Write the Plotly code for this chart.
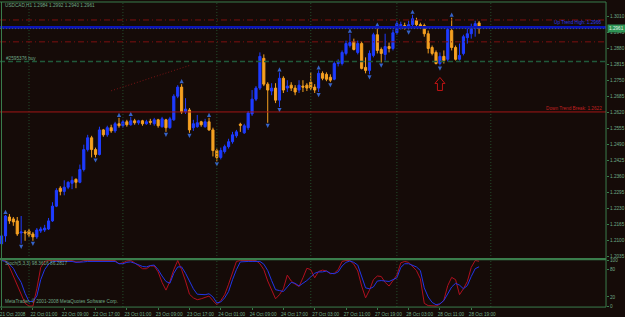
import plotly.graph_objects as go

# ---------------- data ----------------
opens = [1.2086,1.2118,1.2195,1.2187,1.2179,1.2130,1.2134,1.2138,1.2126,1.2114,
         1.2138,1.2142,1.2146,1.2179,1.2239,1.2312,1.2299,1.2316,1.2332,1.2348,
         1.2336,1.2388,1.2469,1.2517,1.2469,1.2449,1.2549,1.2529,1.2558,1.2545,
         1.2574,1.2566,1.2582,1.2570,1.2586,1.2578,1.2586,1.2574,1.2584,1.2574,
         1.2590,1.2562,1.2590,1.2558,1.2590,1.2686,1.2723,1.2622,1.2630,1.2558,
         1.2562,1.2582,1.2562,1.2582,1.2549,1.2465,1.2437,1.2461,1.2481,1.2501,
         1.2525,1.2572,1.2537,1.2558,1.2614,1.2674,1.2719,1.2840,1.2735,1.2707,
         1.2719,1.2670,1.2759,1.2719,1.2731,1.2719,1.2711,1.2727,1.2731,1.2743,
         1.2723,1.2719,1.2779,1.2775,1.2763,1.2755,1.2819,1.2819,1.2860,1.2892,
         1.2908,1.2864,1.2900,1.2803,1.2791,1.2852,1.2936,1.2876,1.2856,1.2888,
         1.2880,1.2944,1.2973,1.2973,1.2965,1.2977,1.2993,1.2977,1.2973,1.2940,
         1.2884,1.2864,1.2819,1.2848,1.2836,1.2953,1.2884,1.2836,1.2860,1.2924,
         1.2940,1.2961,1.2984]
highs = [1.2126,1.2203,1.2207,1.2195,1.2195,1.2199,1.2142,1.2146,1.2134,1.2150,
         1.2155,1.2163,1.2191,1.2255,1.2312,1.2320,1.2344,1.2340,1.2360,1.2352,
         1.2408,1.2489,1.2529,1.2525,1.2477,1.2562,1.2553,1.2566,1.2570,1.2582,
         1.2598,1.2590,1.2590,1.2602,1.2594,1.2590,1.2590,1.2590,1.2594,1.2598,
         1.2594,1.2602,1.2594,1.2602,1.2694,1.2731,1.2735,1.2678,1.2638,1.2590,
         1.2610,1.2586,1.2594,1.2598,1.2558,1.2473,1.2477,1.2489,1.2513,1.2541,
         1.2549,1.2578,1.2574,1.2626,1.2711,1.2727,1.2864,1.2856,1.2743,1.2739,
         1.2739,1.2783,1.2767,1.2751,1.2743,1.2731,1.2751,1.2751,1.2739,1.2783,
         1.2735,1.2791,1.2787,1.2783,1.2775,1.2827,1.2836,1.2872,1.2912,1.2940,
         1.2920,1.2912,1.2908,1.2844,1.2872,1.2944,1.2965,1.2884,1.2940,1.2904,
         1.2957,1.2993,1.2989,1.2985,1.2993,1.3017,1.3005,1.2985,1.2981,1.2953,
         1.2892,1.2872,1.2864,1.2872,1.2965,1.3005,1.2892,1.2900,1.2936,1.2961,
         1.2981,1.2993,1.2992]
lows = [1.2078,1.2094,1.2167,1.2159,1.2118,1.2086,1.2098,1.2114,1.2098,1.2106,
        1.2130,1.2134,1.2142,1.2175,1.2235,1.2283,1.2283,1.2308,1.2308,1.2312,
        1.2332,1.2380,1.2461,1.2437,1.2437,1.2445,1.2521,1.2521,1.2537,1.2537,
        1.2558,1.2558,1.2562,1.2566,1.2570,1.2570,1.2566,1.2570,1.2570,1.2566,
        1.2558,1.2558,1.2541,1.2554,1.2586,1.2678,1.2614,1.2614,1.2537,1.2545,
        1.2558,1.2562,1.2558,1.2545,1.2441,1.2421,1.2429,1.2453,1.2473,1.2493,
        1.2517,1.2541,1.2533,1.2549,1.2606,1.2666,1.2711,1.2727,1.2578,1.2690,
        1.2658,1.2642,1.2699,1.2703,1.2707,1.2690,1.2699,1.2703,1.2707,1.2711,
        1.2699,1.2703,1.2751,1.2747,1.2743,1.2751,1.2807,1.2811,1.2852,1.2884,
        1.2872,1.2856,1.2795,1.2779,1.2775,1.2844,1.2860,1.2823,1.2831,1.2864,
        1.2872,1.2936,1.2957,1.2957,1.2957,1.2969,1.2969,1.2961,1.2928,1.2860,
        1.2852,1.2815,1.2811,1.2819,1.2827,1.2872,1.2831,1.2831,1.2852,1.2900,
        1.2920,1.2928,1.2940]
closes = [1.2118,1.2199,1.2179,1.2175,1.2126,1.2134,1.2130,1.2122,1.2114,1.2142,
          1.2146,1.2150,1.2179,1.2239,1.2303,1.2299,1.2316,1.2336,1.2344,1.2336,
          1.2388,1.2469,1.2517,1.2469,1.2449,1.2549,1.2529,1.2558,1.2545,1.2574,
          1.2566,1.2582,1.2570,1.2586,1.2578,1.2586,1.2574,1.2582,1.2580,1.2590,
          1.2566,1.2594,1.2558,1.2594,1.2686,1.2723,1.2622,1.2634,1.2549,1.2574,
          1.2578,1.2570,1.2582,1.2549,1.2465,1.2437,1.2465,1.2481,1.2501,1.2529,
          1.2541,1.2568,1.2566,1.2618,1.2674,1.2719,1.2848,1.2735,1.2711,1.2719,
          1.2670,1.2759,1.2711,1.2727,1.2719,1.2703,1.2731,1.2723,1.2719,1.2719,
          1.2711,1.2779,1.2759,1.2755,1.2751,1.2819,1.2823,1.2864,1.2900,1.2904,
          1.2876,1.2900,1.2799,1.2791,1.2860,1.2936,1.2872,1.2860,1.2888,1.2880,
          1.2944,1.2981,1.2977,1.2965,1.2977,1.3001,1.2977,1.2969,1.2940,1.2880,
          1.2860,1.2819,1.2848,1.2831,1.2957,1.2884,1.2836,1.2852,1.2928,1.2940,
          1.2965,1.2981,1.2961]

stoch_main = [100,100,86,66,45,25,6,0,0,38,
              85,98,100,100,100,100,100,100,100,97,
              97,100,100,100,100,100,100,100,100,100,
              93,95,99,100,95,88,82,82,88,88,
              75,52,35,54,80,100,80,55,26,18,
              14,16,19,22,12,3,12,25,48,75,
              98,100,100,100,100,100,93,80,55,36,
              16,25,38,68,55,48,43,62,83,80,
              62,76,79,77,71,72,80,98,100,100,
              92,77,44,18,35,58,66,65,52,44,
              56,68,95,98,96,88,78,60,6,1,
              0,0,4,13,45,63,58,25,38,54,
              85,100,98.36]
stoch_signal = [100,98,92,83,66,52,28,10,10,22,
                58,80,92,98,98,98,98,98,98,96,
                96,97,98,98,98,98,98,98,98,98,
                93,93,96,97,94,90,87,86,89,90,
                80,66,54,50,72,86,86,72,54,38,
                26,25,25,27,20,7,9,18,32,58,
                80,97,98,98,98,98,98,92,78,56,
                36,34,32,42,52,50,44,50,56,64,
                72,75,75,77,72,71,75,88,96,99,
                96,90,65,40,38,42,55,56,55,54,
                58,62,85,93,93,90,86,78,40,20,
                8,3,5,12,28,42,50,46,38,45,
                65,82,86.28]

tick_bars = [0, 8, 16, 24, 32, 40, 48, 56, 64, 72, 80, 88, 96, 104, 112, 120]
tick_text = ["21 Oct 2008", "22 Oct 01:00", "22 Oct 09:00", "22 Oct 17:00",
             "23 Oct 01:00", "23 Oct 09:00", "23 Oct 17:00", "24 Oct 01:00",
             "24 Oct 09:00", "24 Oct 17:00", "27 Oct 03:00", "27 Oct 11:00",
             "27 Oct 19:00", "28 Oct 03:00", "28 Oct 11:00", "28 Oct 19:00"]
day_start_bars = [7, 31, 55, 79, 101, 125]
price_ticks = [1.3010, 1.2945, 1.2880, 1.2815, 1.2750, 1.2685, 1.2620, 1.2555,
               1.2490, 1.2425, 1.2360, 1.2295, 1.2230, 1.2165, 1.2100, 1.2035]
stoch_ticks = [0, 20, 80, 100]
frac_up_bars = [1, 30, 33, 46, 53, 71, 81, 89, 96, 105, 115]
frac_dn_bars = [5, 8, 24, 42, 48, 55, 68, 71, 81, 84, 94, 97, 104, 112]

level_dashdot_1 = 1.2996
level_up_trend = 1.2966
level_bid = 1.2961
level_dashdot_2 = 1.2907
level_order = 1.2827
level_down_break = 1.2622
trend_bars = [28, 48]
trend_prices = [1.2708, 1.2811]

# ---------------- style ----------------
BG = "#150b08"
BULL = "#1e3cff"
BEAR = "#f5a021"
FRAC = "#3562c8"
GREEN = "#3a7d4c"
TXT = "#6fa886"
FONT = "Liberation Sans"
FS = 4.7

W, H = 625, 317
PX = 607  # right edge of plot area in px
bars = list(range(len(opens)))

def py(px):
    return 1 - px / H

fig = go.Figure()
# dotted trend line (drawn beneath candles)
fig.add_trace(go.Scatter(x=trend_bars, y=trend_prices, mode="lines",
                         line=dict(color="#7a1414", width=1, dash="1px,2px"),
                         xaxis="x", yaxis="y", showlegend=False, hoverinfo="skip"))
fig.add_trace(go.Candlestick(
    x=bars, open=opens, high=highs, low=lows, close=closes,
    increasing=dict(line=dict(color=BULL, width=1), fillcolor=BULL),
    decreasing=dict(line=dict(color=BEAR, width=1), fillcolor=BEAR),
    whiskerwidth=0, xaxis="x", yaxis="y", showlegend=False, hoverinfo="skip"))

off = 0.0021
fig.add_trace(go.Scatter(
    x=frac_up_bars, y=[highs[i] + off for i in frac_up_bars], mode="markers",
    marker=dict(symbol="arrow-up", size=4.2, color=FRAC, line=dict(width=0)),
    xaxis="x", yaxis="y", showlegend=False, hoverinfo="skip"))
fig.add_trace(go.Scatter(
    x=frac_dn_bars, y=[lows[i] - off for i in frac_dn_bars], mode="markers",
    marker=dict(symbol="arrow-down", size=4.2, color=FRAC, line=dict(width=0)),
    xaxis="x", yaxis="y", showlegend=False, hoverinfo="skip"))

fig.add_trace(go.Scatter(x=bars, y=stoch_main, mode="lines",
                         line=dict(color="#b01020", width=1),
                         xaxis="x2", yaxis="y2", showlegend=False, hoverinfo="skip"))
fig.add_trace(go.Scatter(x=bars, y=stoch_signal, mode="lines",
                         line=dict(color="#2236e8", width=1),
                         xaxis="x2", yaxis="y2", showlegend=False, hoverinfo="skip"))

xr = [-1.6 / 3.92, (PX - 1.6) / 3.92]
dom_x = [0, PX / W]
fig.update_layout(
    width=W, height=H, margin=dict(l=0, r=0, t=0, b=0),
    paper_bgcolor=BG, plot_bgcolor=BG, boxgap=0.22,
    font=dict(family=FONT, size=FS, color=TXT),
    xaxis=dict(domain=dom_x, range=xr, anchor="y", showticklabels=False,
               showgrid=False, zeroline=False, rangeslider=dict(visible=False)),
    xaxis2=dict(domain=dom_x, range=xr, anchor="y2", matches="x",
                tickmode="array", tickvals=tick_bars, ticktext=tick_text,
                ticks="outside", ticklen=2, tickcolor=GREEN, ticklabelshift=11,
                ticklabeloverflow="allow",
                tickfont=dict(size=FS, color=TXT), showgrid=False, zeroline=False),
    yaxis=dict(domain=[py(259), py(4)], range=[1.2030, 1.3057], anchor="x",
               side="right", tickmode="array", tickvals=price_ticks,
               tickformat=".4f", ticks="outside", ticklen=2, tickcolor=GREEN,
               tickfont=dict(size=FS, color=TXT), showgrid=False, zeroline=False),
    yaxis2=dict(domain=[py(309), py(261)], range=[-2.2, 102.2], anchor="x2",
                side="right", tickmode="array", tickvals=stoch_ticks,
                ticks="outside", ticklen=2, tickcolor=GREEN,
                tickfont=dict(size=FS, color=TXT), showgrid=False, zeroline=False),
)

shapes = []
# day separators (dotted grid)
for b in day_start_bars:
    shapes.append(dict(type="line", xref="x", yref="paper", x0=b, x1=b,
                       y0=py(309), y1=py(1), line=dict(color="#24502e", width=1, dash="1px,2px")))
# horizontal levels
def hline(level, color, width, dash):
    shapes.append(dict(type="line", xref="paper", yref="y", x0=0, x1=PX / W,
                       y0=level, y1=level, line=dict(color=color, width=width, dash=dash)))
hline(level_dashdot_1, "#7e1010", 1, "6px,3px,1px,3px")
hline(level_dashdot_2, "#7e1010", 1, "6px,3px,1px,3px")
hline(level_order, "#20593a", 1.6, "5px,3px")
hline(level_down_break, "#a31616", 1, "solid")
hline(level_up_trend, "#0c16b8", 2.6, "solid")
hline(level_bid, "#3e5a66", 1, "1px,2px")
# frame
shapes += [
    dict(type="line", xref="paper", yref="paper", x0=1.5 / W, x1=1.5 / W, y0=py(309), y1=py(1),
         line=dict(color=GREEN, width=1)),
    dict(type="line", xref="paper", yref="paper", x0=0, x1=PX / W, y0=py(1), y1=py(1),
         line=dict(color=GREEN, width=1)),
    dict(type="line", xref="paper", yref="paper", x0=PX / W, x1=PX / W, y0=py(309), y1=py(1),
         line=dict(color=GREEN, width=1)),
    dict(type="line", xref="paper", yref="paper", x0=0, x1=PX / W, y0=py(309), y1=py(309),
         line=dict(color=GREEN, width=1)),
    dict(type="line", xref="paper", yref="paper", x0=0, x1=PX / W, y0=py(260.5), y1=py(260.5),
         line=dict(color=GREEN, width=2.2)),
]
# red hollow arrow under the low of the marked bar
shapes.append(dict(type="path", xref="x", yref="y", xsizemode="pixel", ysizemode="pixel",
                   xanchor=112, yanchor=lows[112],
                   path="M 0 -12 L 5 -18 L 2.5 -18 L 2.5 -25 L -2.5 -25 L -2.5 -18 L -5 -18 Z",
                   line=dict(color="#c01414", width=1), fillcolor="rgba(0,0,0,0)"))
fig.update_layout(shapes=shapes)

ann = [
    dict(text="USDCAD,H1 1.2984 1.2992 1.2940 1.2961", x=3 / W, y=py(5)),
    dict(text="#2595376 buy", x=4 / W, y=py(58)),
    dict(text="Stoch(5,3,3) 98.3616 86.2817", x=3 / W, y=py(265)),
    dict(text="MetaTrader, © 2001-2008 MetaQuotes Software Corp.", x=3 / W, y=py(303)),
]
for a in ann:
    fig.add_annotation(xref="paper", yref="paper", xanchor="left", yanchor="middle",
                       showarrow=False, font=dict(size=FS, color=TXT, family=FONT), **a)
fig.add_annotation(text="Up Trend High: 1.2966", xref="paper", yref="y", x=(PX - 2) / W,
                   y=level_up_trend, xanchor="right", yanchor="bottom", yshift=0,
                   showarrow=False, font=dict(size=FS, color="#2a3af0", family=FONT))
fig.add_annotation(text="Down Trend Break: 1.2622", xref="paper", yref="y", x=(PX - 2) / W,
                   y=level_down_break, xanchor="right", yanchor="bottom", yshift=-1,
                   showarrow=False, font=dict(size=FS, color="#c02020", family=FONT))
fig.add_annotation(text="1.2961", xref="paper", yref="y", x=(PX + 1) / W, y=level_bid,
                   xanchor="left", yanchor="middle", showarrow=False, bgcolor="#2f9455",
                   borderpad=1, font=dict(size=FS, color="#e0f5e8", family=FONT))

fig.write_html("out.html")
